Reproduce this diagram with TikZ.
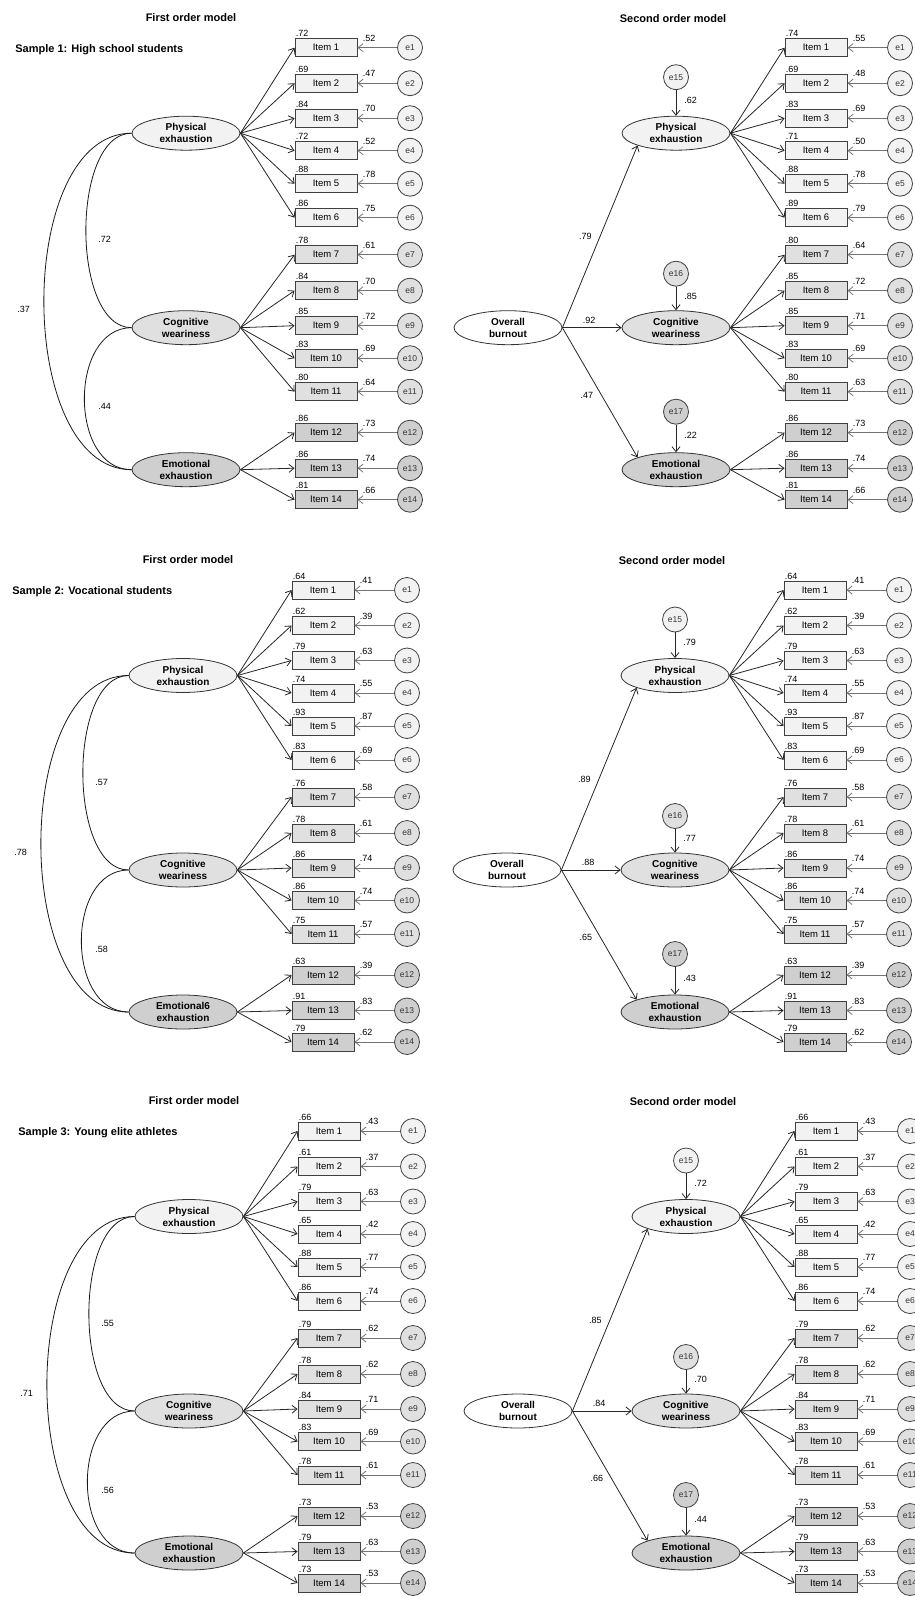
\documentclass[tikz,border=0pt]{standalone}
\usepackage{fontspec}
\setmainfont{Liberation Sans}
\usetikzlibrary{arrows.meta,shapes.geometric}

\definecolor{shade1}{gray}{0.95}
\definecolor{shade2}{gray}{0.88}
\definecolor{shade3}{gray}{0.81}

% vertical offsets of the 14 item rows
\def\rowys{{0,35.5,70.5,103,136,170,207,243,278,310.5,344,385,420.5,452}}

% items, errors and their values: #1 prefix, #2 list n/loading/error
\newcommand{\itemrows}[2]{
  \foreach \n/\lo/\ev in {#2} {
    \pgfmathsetmacro\dy{\rowys[\n-1]}
    \pgfmathtruncatemacro\g{(\n>6)+(\n>11)+1}
    \node[itembox, fill=shade\g] (#1i\n) at (31,\dy) {Item \n};
    \node[errnode, fill=shade\g] (#1e\n) at (115,\dy) {e\n};
    \draw[errpath] (#1e\n) -- (#1i\n);
    \node[valnode, anchor=south west] at (#1i\n.north west) {\lo};
    \node[valnode, anchor=west] at ([xshift=4pt]#1i\n.north east) {\ev};
  }
}

% the three factors and their loadings: #1 prefix, #2 name of emotional factor
\newcommand{\factors}[2]{
  \node[latent, fill=shade1] (#1phys) at (-109,85.5) {Physical\\exhaustion};
  \node[latent, fill=shade2] (#1cog)  at (-109,280)  {Cognitive\\weariness};
  \node[latent, fill=shade3] (#1emo)  at (-109,422)  {#2\\exhaustion};
  \foreach \n in {1,...,6}   \draw[loadpath] (#1phys.east) -- (#1i\n.west);
  \foreach \n in {7,...,11}  \draw[loadpath] (#1cog.east) -- (#1i\n.west);
  \foreach \n in {12,13,14}  \draw[loadpath] (#1emo.east) -- (#1i\n.west);
}

% #1 prefix, #2 sample, #3 emotional name, #4 rows, #5-#7 correlations
\newcommand{\firstorder}[7]{
  \node[titlenode] at (-104,-30.5) {First order model};
  \node[titlenode, anchor=west] at (-281,1.5) {#2};
  \itemrows{#1}{#4}
  \factors{#1}{#3}
  \draw[corrpath] (#1phys.west) .. controls +(-61,0) and +(-61,0) .. (#1cog.west);
  \draw[corrpath] (#1phys.west) .. controls +(-117,0) and +(-117,0) .. (#1emo.west);
  \draw[corrpath] (#1cog.west) .. controls +(-63,0) and +(-63,0) .. (#1emo.west);
  \node[valnode, anchor=west] at (-198,192) {#5};
  \node[valnode, anchor=west] at (-279,262) {#6};
  \node[valnode, anchor=west] at (-198,359) {#7};
}

% #1 prefix, #2 rows, #3-#5 disturbances, #6-#8 second order loadings
\newcommand{\secondorder}[8]{
  \node[titlenode] at (-112,-29) {Second order model};
  \itemrows{#1}{#2}
  \factors{#1}{Emotional}
  \node[errnode, fill=shade1] (#1d1) at (-109,29.5) {e15};
  \node[errnode, fill=shade2] (#1d2) at (-109,226)  {e16};
  \node[errnode, fill=shade3] (#1d3) at (-109,364)  {e17};
  \draw[loadpath] (#1d1) -- (#1phys) node[valnode, pos=0.4, right=7pt] {#3};
  \draw[loadpath] (#1d2) -- (#1cog)  node[valnode, pos=0.4, right=7pt] {#4};
  \draw[loadpath] (#1d3) -- (#1emo)  node[valnode, pos=0.4, right=7pt] {#5};
  \node[latent, fill=white] (#1all) at (-277,280) {Overall\\burnout};
  \draw[loadpath] (#1all.east) -- (#1phys.south west) node[valnode, pos=0.5, left=7pt] {#6};
  \draw[loadpath] (#1all.east) -- (#1cog.west) node[valnode, pos=0.45, above=3pt] {#7};
  \draw[loadpath] (#1all.east) -- (#1emo.north west) node[valnode, pos=0.52, left=7pt] {#8};
}

\begin{document}
\begin{tikzpicture}[x=1pt,y=-1pt,line width=0.8pt,
  >={Straight Barb[length=5pt,width=8pt]},
  itembox/.style={draw=black!75,line width=0.9pt,minimum width=62pt,minimum height=18pt,inner sep=0pt,font=\fontsize{9.5}{10}\selectfont},
  errnode/.style={circle,draw=black!75,minimum size=25pt,inner sep=0pt,text=black!80,font=\fontsize{8.5}{9}\selectfont},
  latent/.style={ellipse,draw=black!80,minimum width=108pt,minimum height=34pt,inner sep=0pt,align=center,font=\fontsize{10}{12}\selectfont\bfseries},
  valnode/.style={inner sep=1pt,font=\fontsize{9}{10}\selectfont},
  titlenode/.style={inner sep=1pt,font=\fontsize{11}{13}\selectfont\bfseries},
  loadpath/.style={->,draw=black!85},
  errpath/.style={->,draw=black!55},
  corrpath/.style={draw=black!90}]
  \useasboundingbox (0,0) rectangle (914,1597);

  % Sample 1
  \begin{scope}[shift={(295,47.7)}]
    \firstorder{a}{Sample 1: High school students}{Emotional}
      {1/.72/.52, 2/.69/.47, 3/.84/.70, 4/.72/.52, 5/.88/.78, 6/.86/.75, 7/.78/.61,
       8/.84/.70, 9/.85/.72, 10/.83/.69, 11/.80/.64, 12/.86/.73, 13/.86/.74, 14/.81/.66}
      {.72}{.37}{.44}
  \end{scope}
  \begin{scope}[shift={(785,47.7)}]
    \secondorder{b}
      {1/.74/.55, 2/.69/.48, 3/.83/.69, 4/.71/.50, 5/.88/.78, 6/.89/.79, 7/.80/.64,
       8/.85/.72, 9/.85/.71, 10/.83/.69, 11/.80/.63, 12/.86/.73, 13/.86/.74, 14/.81/.66}
      {.62}{.85}{.22}{.79}{.92}{.47}
  \end{scope}

  % Sample 2
  \begin{scope}[shift={(292,590)}]
    \firstorder{c}{Sample 2: Vocational students}{Emotional6}
      {1/.64/.41, 2/.62/.39, 3/.79/.63, 4/.74/.55, 5/.93/.87, 6/.83/.69, 7/.76/.58,
       8/.78/.61, 9/.86/.74, 10/.86/.74, 11/.75/.57, 12/.63/.39, 13/.91/.83, 14/.79/.62}
      {.57}{.78}{.58}
  \end{scope}
  \begin{scope}[shift={(784,590)}]
    \secondorder{d}
      {1/.64/.41, 2/.62/.39, 3/.79/.63, 4/.74/.55, 5/.93/.87, 6/.83/.69, 7/.76/.58,
       8/.78/.61, 9/.86/.74, 10/.86/.74, 11/.75/.57, 12/.63/.39, 13/.91/.83, 14/.79/.62}
      {.79}{.77}{.43}{.89}{.88}{.65}
  \end{scope}

  % Sample 3
  \begin{scope}[shift={(298,1131)}]
    \firstorder{f}{Sample 3: Young elite athletes}{Emotional}
      {1/.66/.43, 2/.61/.37, 3/.79/.63, 4/.65/.42, 5/.88/.77, 6/.86/.74, 7/.79/.62,
       8/.78/.62, 9/.84/.71, 10/.83/.69, 11/.78/.61, 12/.73/.53, 13/.79/.63, 14/.73/.53}
      {.55}{.71}{.56}
  \end{scope}
  \begin{scope}[shift={(795,1131)}]
    \secondorder{g}
      {1/.66/.43, 2/.61/.37, 3/.79/.63, 4/.65/.42, 5/.88/.77, 6/.86/.74, 7/.79/.62,
       8/.78/.62, 9/.84/.71, 10/.83/.69, 11/.78/.61, 12/.73/.53, 13/.79/.63, 14/.73/.53}
      {.72}{.70}{.44}{.85}{.84}{.66}
  \end{scope}
\end{tikzpicture}
\end{document}
